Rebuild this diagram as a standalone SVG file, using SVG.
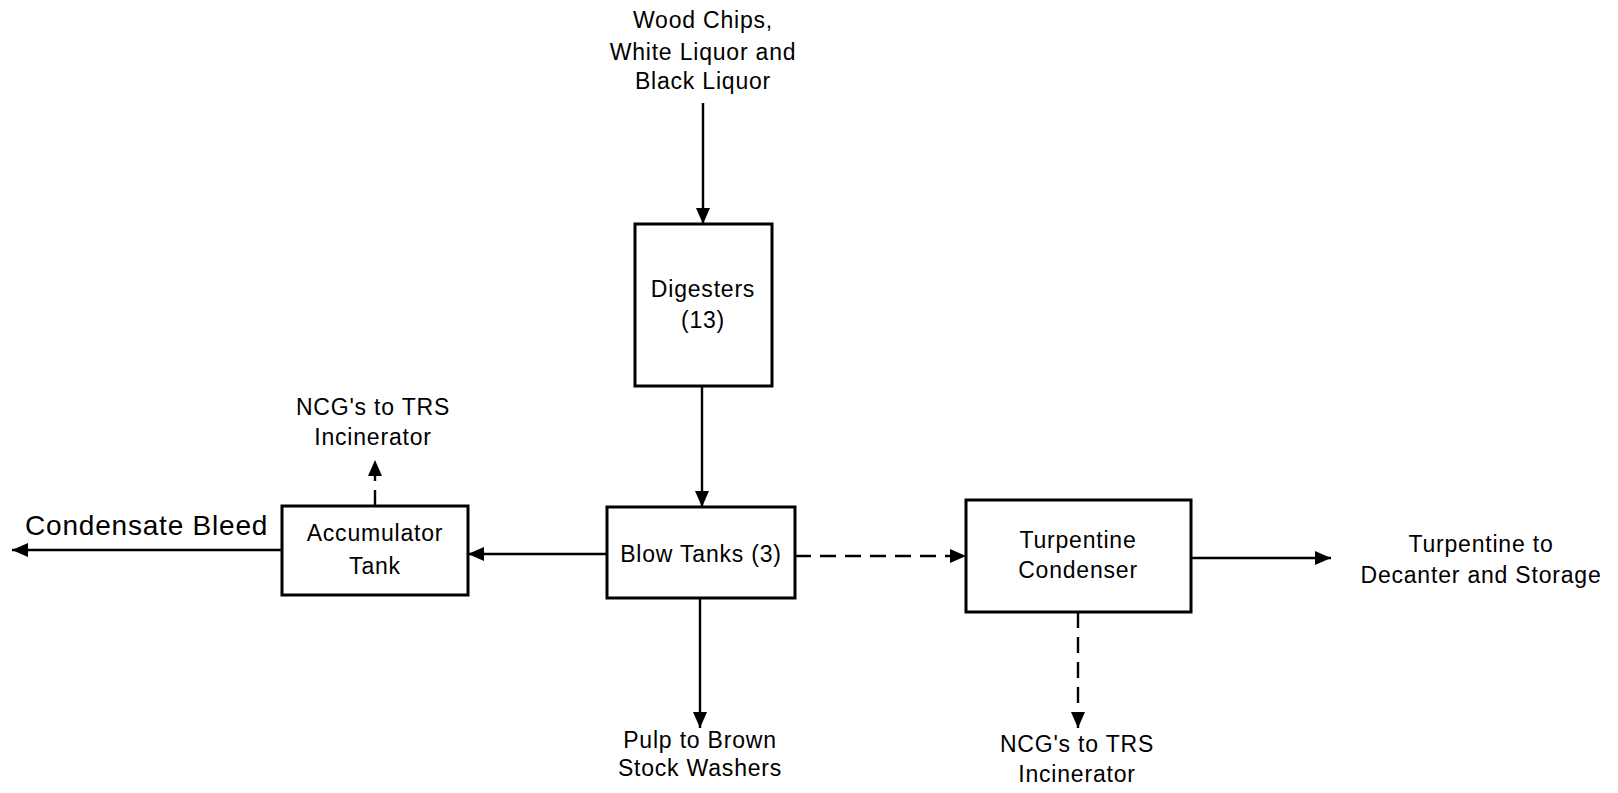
<svg xmlns="http://www.w3.org/2000/svg" width="1618" height="793" viewBox="0 0 1618 793">
<style>
.box{fill:#fff;stroke:#000;stroke-width:3}
.ln{fill:none;stroke:#000;stroke-width:2.4}
.dash{fill:none;stroke:#000;stroke-width:2.4;stroke-dasharray:16 9}
text{font-family:"Liberation Sans",Arial,Helvetica,sans-serif;font-size:23px;letter-spacing:0.8px;fill:#000}
.c{text-anchor:middle}
.big{font-size:28px}
</style>
<defs>
<marker id="ah" viewBox="0 0 16 14" refX="16" refY="7" markerWidth="16" markerHeight="14" markerUnits="userSpaceOnUse" orient="auto">
<path d="M0,0 L16,7 L0,14 Z" fill="#000"/>
</marker>
</defs>
<rect width="1618" height="793" fill="#fff"/>
<g id="connectors">
<line class="ln" x1="703" y1="103" x2="703" y2="224" marker-end="url(#ah)"/>
<line class="ln" x1="702" y1="386" x2="702" y2="507" marker-end="url(#ah)"/>
<line class="ln" x1="607" y1="554" x2="468" y2="554" marker-end="url(#ah)"/>
<line class="ln" x1="282" y1="550" x2="12" y2="550" marker-end="url(#ah)"/>
<line class="dash" x1="375" y1="506" x2="375" y2="460" marker-end="url(#ah)"/>
<line class="dash" x1="795" y1="556" x2="966" y2="556" marker-end="url(#ah)"/>
<line class="ln" x1="1191" y1="558" x2="1331" y2="558" marker-end="url(#ah)"/>
<line class="dash" x1="1078" y1="612" x2="1078" y2="728" marker-end="url(#ah)"/>
<line class="ln" x1="700" y1="598" x2="700" y2="728" marker-end="url(#ah)"/>
</g>
<g id="input-label">
<text class="c" x="703" y="28">Wood Chips,</text>
<text class="c" x="703" y="60">White Liquor and</text>
<text class="c" x="703" y="89">Black  Liquor</text>
</g>
<g id="digesters">
<rect class="box" x="635" y="224" width="137" height="162"/>
<text class="c" x="703" y="297">Digesters</text>
<text class="c" x="703" y="328">(13)</text>
</g>
<g id="blow-tanks">
<rect class="box" x="607" y="507" width="188" height="91"/>
<text class="c" x="701" y="562">Blow Tanks (3)</text>
</g>
<g id="accumulator">
<rect class="box" x="282" y="506" width="186" height="89"/>
<text class="c" x="375" y="541">Accumulator</text>
<text class="c" x="375" y="574">Tank</text>
</g>
<g id="condensate-bleed">
<text class="big" x="25" y="535">Condensate  Bleed</text>
</g>
<g id="ncg-top">
<text class="c" x="373" y="415">NCG's to TRS</text>
<text class="c" x="373" y="445">Incinerator</text>
</g>
<g id="turpentine-condenser">
<rect class="box" x="966" y="500" width="225" height="112"/>
<text class="c" x="1078" y="548">Turpentine</text>
<text class="c" x="1078" y="578">Condenser</text>
</g>
<g id="turpentine-storage">
<text class="c" x="1481" y="552">Turpentine to</text>
<text class="c" x="1481" y="583">Decanter  and  Storage</text>
</g>
<g id="ncg-bottom">
<text class="c" x="1077" y="752">NCG's to TRS</text>
<text class="c" x="1077" y="782">Incinerator</text>
</g>
<g id="pulp">
<text class="c" x="700" y="748">Pulp to Brown</text>
<text class="c" x="700" y="776">Stock Washers</text>
</g>
</svg>
